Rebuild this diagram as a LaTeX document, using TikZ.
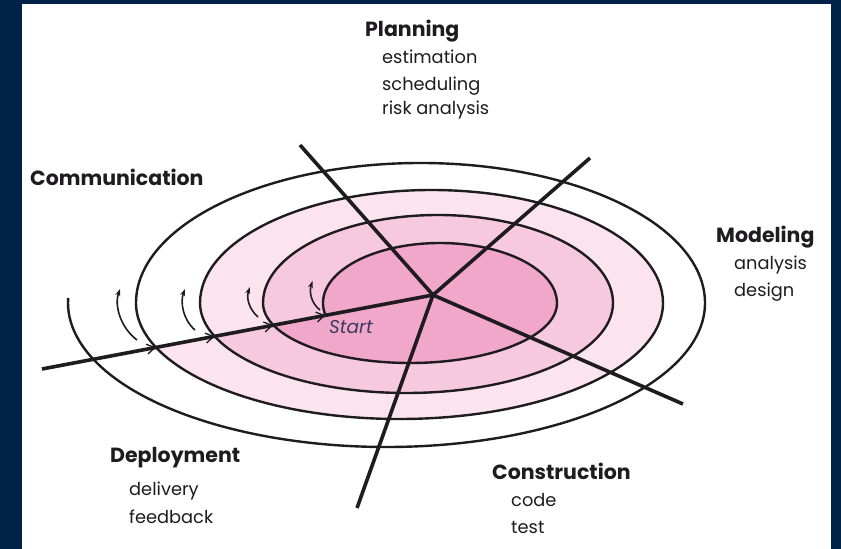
\documentclass[tikz,border=0pt]{standalone}
\usepackage{fontspec}
\setmainfont{Poppins}
\usetikzlibrary{arrows.meta,decorations.markings}
\definecolor{navy}{RGB}{0,34,72}
\definecolor{pinkA}{RGB}{241,167,201}
\definecolor{pinkB}{RGB}{247,201,222}
\definecolor{pinkC}{RGB}{252,228,239}
\definecolor{ink}{RGB}{30,28,30}
\definecolor{startc}{RGB}{60,58,95}
\begin{document}
\begin{tikzpicture}[x=1pt,y=-1pt,
  spiralline/.style={line width=2.4pt, draw=ink},
  spoke/.style={line width=3.6pt, draw=ink},
  turnarrow/.style={line width=1.6pt, draw=ink, -{Stealth[length=7pt,width=5pt]}},
  title/.style={font=\bfseries\fontsize{20.5}{24}\selectfont, text=ink, anchor=base west, inner sep=0pt},
  item/.style={font=\fontsize{17.8}{21}\selectfont, text=ink, anchor=base west, inner sep=0pt}
]
% background and frame
\fill[navy] (0,0) rectangle (841,549);
\fill[white] (22,4) rectangle (831,549);
\useasboundingbox (0,0) rectangle (841,549);

% band fills
\fill[pinkC] (214.77,336.42)
  arc[start angle=158.2,end angle=180,x radius=206.5,y radius=90]
  arc[start angle=180,end angle=360,x radius=231.5,y radius=113]
  arc[start angle=0,end angle=157.5,x radius=263.5,y radius=116] -- cycle;
\fill[pinkB] (273.32,325.09)
  arc[start angle=158.4,end angle=180,x radius=147,y radius=60]
  arc[start angle=180,end angle=360,x radius=175,y radius=88]
  arc[start angle=0,end angle=158.2,x radius=206.5,y radius=90] -- cycle;
\fill[pinkA] (325.56,315.47)
  arc[start angle=168,end angle=360,x radius=117,y radius=60]
  arc[start angle=0,end angle=158.4,x radius=147,y radius=60] -- cycle;

% spiral
\draw[spiralline] (325.56,315.47)
  arc[start angle=168,end angle=360,x radius=117,y radius=60]
  arc[start angle=0,end angle=180,x radius=147,y radius=60]
  arc[start angle=180,end angle=360,x radius=175,y radius=88]
  arc[start angle=0,end angle=180,x radius=206.5,y radius=90]
  arc[start angle=180,end angle=360,x radius=231.5,y radius=113]
  arc[start angle=0,end angle=180,x radius=263.5,y radius=116]
  arc[start angle=180,end angle=360,x radius=284.5,y radius=140]
  arc[start angle=0,end angle=182,x radius=318.5,y radius=144];

% turn arrows
\coordinate (a1s) at (137,340); \coordinate (a1e) at (120,289);
\coordinate (a2s) at (195,330); \coordinate (a2e) at (185,289);
\coordinate (a3s) at (258,317); \coordinate (a3e) at (250,287);
\coordinate (a4s) at (320,310); \coordinate (a4e) at (312.5,281);
\draw[turnarrow] (a1s) .. controls (121,328) and (114,306) .. (a1e);
\draw[turnarrow] (a2s) .. controls (183,320) and (180,302) .. (a2e);
\draw[turnarrow] (a3s) .. controls (249,309) and (246,298) .. (a3e);
\draw[turnarrow] (a4s) .. controls (311,303) and (309,292) .. (a4e);

% spokes
\coordinate (C) at (433,295);
\coordinate (mstart) at (42,369);
\coordinate (pl) at (300,145);
\coordinate (pr) at (590,158);
\coordinate (lr) at (683,404);
\coordinate (dn) at (357,508);
\draw[spoke] (C) -- (pl);
\draw[spoke] (C) -- (pr);
\draw[spoke] (C) -- (lr);
\draw[spoke] (C) -- (dn);
\draw[spoke, postaction={decorate}, decoration={markings,
   mark=at position 0.2918 with {\arrow[line width=1.3pt]{Straight Barb[length=8pt,width=10pt]}},
   mark=at position 0.442 with {\arrow[line width=1.3pt]{Straight Barb[length=8pt,width=10pt]}},
   mark=at position 0.5918 with {\arrow[line width=1.3pt]{Straight Barb[length=8pt,width=10pt]}},
   mark=at position 0.7253 with {\arrow[line width=1.3pt]{Straight Barb[length=8pt,width=10pt]}}}]
   (mstart) -- (C);

% labels
\node[title] (planning) at (365,36) {Planning};
\node[item] (estimation) at (382,63) {estimation};
\node[item] (scheduling) at (382,90) {scheduling};
\node[item] (risk) at (382,114) {risk analysis};
\node[title] (communication) at (30,185) {Communication};
\node[title] (modeling) at (716,242) {Modeling};
\node[item] (analysis) at (734,269) {analysis};
\node[item] (design) at (734,296) {design};
\node[font=\itshape\fontsize{18.5}{22}\selectfont, text=startc, anchor=base west, inner sep=0pt] (start) at (329,333) {Start};
\node[title] (deployment) at (110,462) {Deployment};
\node[item] (delivery) at (129,495) {delivery};
\node[item] (feedback) at (129,523) {feedback};
\node[title] (construction) at (492,479) {Construction};
\node[item] (code) at (511,506) {code};
\node[item] (test) at (511,533) {test};
\end{tikzpicture}
\end{document}
